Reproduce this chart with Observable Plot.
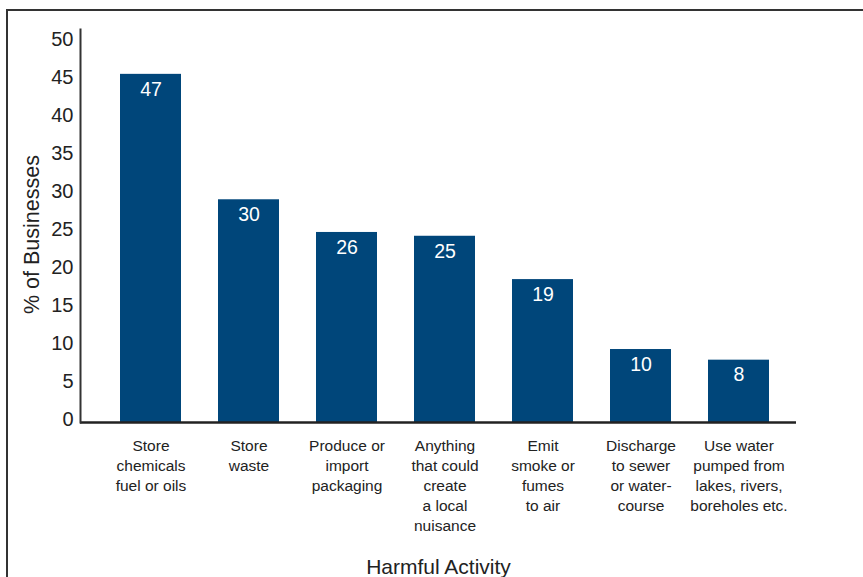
<!DOCTYPE html>
<html>
<head>
<meta charset="utf-8">
<script src="https://cdn.jsdelivr.net/npm/d3@7"></script>
<script src="https://cdn.jsdelivr.net/npm/@observablehq/plot@0.6"></script>
<style>
  html, body { margin: 0; padding: 0; background: #fff; overflow: hidden; width: 863px; height: 577px; }
  #border { position: absolute; left: 6px; top: 9px; width: 900px; height: 700px; border: 2px solid #333; box-sizing: border-box; z-index: 0; }
  #chart { position: absolute; left: 0; top: 0; z-index: 1; }
</style>
</head>
<body>
<div id="border"></div>
<div id="chart"></div>
<script>
const categories = [
  "Store\nchemicals\nfuel or oils",
  "Store\nwaste",
  "Produce or\nimport\npackaging",
  "Anything\nthat could\ncreate\na local\nnuisance",
  "Emit\nsmoke or\nfumes\nto air",
  "Discharge\nto sewer\nor water-\ncourse",
  "Use water\npumped from\nlakes, rivers,\nboreholes etc."
];
const printedValues = [47, 30, 26, 25, 19, 10, 8];
const barHeights = [45.8, 29.3, 25.0, 24.5, 18.8, 9.6, 8.2];
const yTicks = [0, 5, 10, 15, 20, 25, 30, 35, 40, 45, 50];
const xTitle = "Harmful Activity";
const yTitle = "% of Businesses";

const data = categories.map((c, i) => ({category: c, height: barHeights[i], label: printedValues[i]}));

const chart = Plot.plot({
  width: 863,
  height: 577,
  marginLeft: 80,
  marginRight: 67,
  marginTop: 29,
  marginBottom: 155,
  style: {fontFamily: "'Liberation Sans', Arial, sans-serif", background: "transparent", color: "#222"},
  x: {domain: categories, paddingInner: 0.379, paddingOuter: 0.336, align: 0.59, label: null},
  y: {domain: [0, 51.7], label: null},
  marks: [
    Plot.barY(data, {x: "category", y: "height", fill: "#00467a"}),
    Plot.text(data, {x: "category", y: "height", text: d => String(d.label), dy: 15, fill: "white", fontSize: 19.5}),
    Plot.axisY(yTicks, {tickSize: 0, tickPadding: 7, fontSize: 20, dy: -2.5, fill: "#222"}),
    Plot.axisX({tickSize: 0, tickPadding: 14, fontSize: 15.5, lineHeight: 1.29, fill: "#222"}),
    Plot.ruleY([0], {stroke: "#222", strokeWidth: 2.5}),
    Plot.frame({anchor: "left", stroke: "#333", strokeWidth: 2}),
    Plot.text([xTitle], {frameAnchor: "bottom", dy: 151.5, fontSize: 21, fill: "#222"}),
    Plot.text([yTitle], {frameAnchor: "left", textAnchor: "middle", rotate: -90, dx: -48, dy: 8.5, fontSize: 21.5, fill: "#222"})
  ]
});
document.getElementById("chart").appendChild(chart);
</script>
</body>
</html>
